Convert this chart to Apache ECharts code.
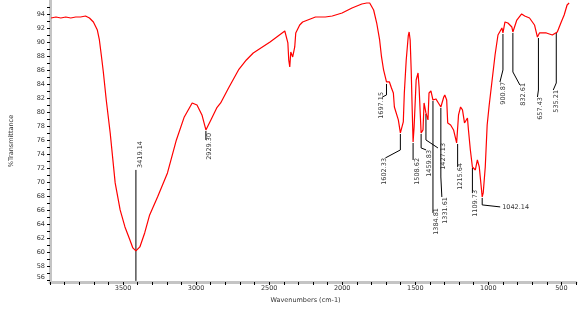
<!DOCTYPE html>
<html>
<head>
<meta charset="utf-8">
<script src="https://cdn.jsdelivr.net/npm/echarts@6/dist/echarts.min.js"></script>
<style>
  html, body { margin: 0; padding: 0; background: #fff; }
  #chart { width: 579px; height: 310px; }
</style>
</head>
<body>
<div id="chart"></div>
<script>
// spectrum
var wavenumbers = [3993, 3959, 3926, 3892, 3858, 3824, 3791, 3757, 3730, 3703, 3676, 3662, 3649, 3635, 3615, 3588, 3554, 3520, 3487, 3453,
    3433, 3412, 3385, 3352, 3318, 3264, 3196, 3135, 3081, 3027, 2994, 2960, 2933, 2899, 2859, 2832, 2778, 2710, 2656, 2609,
    2494, 2393, 2386, 2372, 2366, 2359, 2352, 2339, 2325, 2318, 2291, 2271, 2183, 2116, 2068, 2001, 1933, 1866, 1832, 1812,
    1785, 1764, 1744, 1731, 1717, 1697, 1677, 1663, 1650, 1643, 1616, 1602, 1582, 1575, 1562, 1548, 1542, 1535, 1528, 1521,
    1515, 1508, 1494, 1481, 1474, 1460, 1447, 1440, 1427, 1413, 1406, 1393, 1379, 1359, 1346, 1325, 1305, 1298, 1285, 1278,
    1258, 1238, 1217, 1204, 1190, 1177, 1163, 1143, 1136, 1123, 1109, 1089, 1075, 1062, 1042, 1035, 1021, 1008, 994, 974,
    954, 934, 907, 900, 886, 866, 839, 832, 805, 772, 751, 718, 684, 664, 650, 603, 562, 528, 501, 481,
    461, 447];
var transmittance = [93.43, 93.57, 93.43, 93.57, 93.43, 93.57, 93.57, 93.71, 93.43, 92.86, 91.71, 90.29, 88.14, 85.71, 81.71, 77.0, 69.86, 66.0, 63.57, 61.71,
    60.57, 60.14, 60.71, 62.71, 65.29, 67.86, 71.29, 76.0, 79.29, 81.29, 81.0, 79.57, 77.43, 78.86, 80.57, 81.29, 83.43, 86.0, 87.43, 88.43,
    90.0, 91.57, 91.43, 89.86, 87.43, 86.43, 88.57, 87.86, 89.29, 91.29, 92.43, 92.86, 93.57, 93.57, 93.71, 94.14, 94.86, 95.43, 95.57, 95.57,
    94.57, 92.71, 90.29, 87.86, 86.0, 84.29, 84.29, 83.43, 82.71, 80.71, 78.86, 77.0, 78.57, 82.71, 87.43, 90.86, 91.43, 90.29, 86.0, 80.29,
    75.71, 77.86, 84.57, 85.57, 83.57, 77.0, 77.43, 81.29, 79.86, 78.86, 82.71, 83.0, 81.71, 81.86, 81.43, 80.71, 82.14, 82.43, 81.71, 78.43,
    78.14, 77.43, 75.57, 79.57, 80.71, 80.29, 78.43, 79.14, 77.43, 74.57, 72.14, 71.71, 73.14, 72.14, 67.86, 68.43, 72.14, 78.14, 81.0, 84.57,
    88.14, 91.0, 92.0, 91.29, 92.86, 92.71, 92.14, 91.43, 93.14, 94.0, 93.71, 93.43, 92.43, 90.71, 91.29, 91.29, 91.0, 91.43, 92.86, 93.86,
    95.29, 95.57];

// labelled peaks
var peakWn = [3412, 2933, 1697, 1602, 1515, 1460, 1379, 1325, 1427, 1217, 1109, 1042, 900, 832, 664, 535];
var peakT = [60.14, 77.43, 84.29, 77.0, 75.71, 77.0, 81.71, 80.71, 79.86, 75.57, 72.14, 67.86, 91.29, 91.43, 90.71, 91.43];
var peakText = ['3419.14', '2929.30', '1697.15', '1602.33', '1508.62', '1459.83', '1384.81', '1331.61', '1427.13',
    '1215.64', '1109.73', '1042.14', '900.87', '832.61', '657.43', '535.21'];

var xLabels = [3500, 3000, 2500, 2000, 1500, 1000, 500];
var yLabels = [56.3, 58, 60, 62, 64, 66, 68, 70, 72, 74, 76, 78, 80, 82, 84, 86, 88, 90, 92, 94];

// leader line offsets (px) from each peak, and where its text sits
var markerLayout = [
    { pts: [[0, -81], [0, 30]], lab: [4, -83], align: 'left' },
    { pts: [[0, 1], [0, 10]], lab: [3, 3], align: 'right' },
    { pts: [[0, 2], [0, 13], [-4, 15]], lab: [-5, 10], align: 'right' },
    { pts: [[0, 1], [0, 17], [-15, 25]], lab: [-16, 25], align: 'right' },
    { pts: [[0, 1], [0, 18]], lab: [4, 16], align: 'right' },
    { pts: [[0, 1], [0, 15], [5, 17]], lab: [8, 17], align: 'right' },
    { pts: [[0, 1], [0, 113]], lab: [3, 108], align: 'right' },
    { pts: [[0, 1], [0, 70], [1, 90]], lab: [4, 90], align: 'right' },
    { pts: [[0, 1], [0, 27], [12, 35]], lab: [17, 30], align: 'right' },
    { pts: [[1, 1], [1, 24]], lab: [4, 20], align: 'right' },
    { pts: [[0, 1], [0, 26]], lab: [3, 23], align: 'right' },
    { pts: [[0, 1], [0, 8], [18, 10]], lab: [20, 10], align: 'flat' },
    { pts: [[0, 1], [0, 37], [-3, 49]], lab: [0, 49], align: 'right' },
    { pts: [[0, 1], [0, 40], [7, 53]], lab: [10, 51], align: 'right' },
    { pts: [[1, 1], [1, 53], [0, 60]], lab: [3, 60], align: 'right' },
    { pts: [[0, 1], [0, 51], [-3, 58]], lab: [0, 58], align: 'right' }
];

var font = 'DejaVu Sans';
var textColor = '#333';
var fs = 6.5;

var yTicks = [];
for (var v = 56; v <= 95; v++) yTicks.push(v);

var myChart = echarts.init(document.getElementById('chart'));

var option = {
    backgroundColor: '#fff',
    animation: false,
    grid: { left: 44, right: 2, top: 0, bottom: 28 },
    xAxis: {
        type: 'value',
        min: 400,
        max: 4000,
        interval: 100,
        inverse: true,
        name: 'Wavenumbers (cm-1)',
        nameLocation: 'middle',
        nameGap: 11,
        nameTextStyle: { fontFamily: font, fontSize: fs, color: textColor, padding: [0, 15, 0, 0] },
        axisLine: { lineStyle: { color: '#c4c4c4', width: 3 } },
        axisTick: { length: 3, lineStyle: { color: '#000', width: 1 } },
        axisLabel: {
            fontFamily: font, fontSize: fs, color: textColor, margin: 3,
            formatter: function (val) {
                return xLabels.indexOf(val) > -1 ? String(val) : '';
            }
        },
        splitLine: { show: false }
    },
    yAxis: {
        type: 'value',
        min: 55.7,
        max: 96,
        name: '%Transmittance',
        nameLocation: 'middle',
        nameGap: 35,
        nameTextStyle: { fontFamily: font, fontSize: fs, color: textColor },
        axisLine: { show: true, lineStyle: { color: '#c4c4c4', width: 3 } },
        axisTick: { show: true, length: 3, customValues: yTicks, lineStyle: { color: '#000', width: 1 } },
        axisLabel: {
            fontFamily: font, fontSize: fs, color: textColor, margin: 5,
            customValues: yLabels,
            formatter: function (val) { return String(Math.round(val)); }
        },
        splitLine: { show: false }
    },
    series: [
        {
            type: 'line',
            data: wavenumbers.map(function (w, i) { return [w, transmittance[i]]; }),
            showSymbol: false,
            lineStyle: { color: '#ff0000', width: 1.2 },
            silent: true
        },
        {
            type: 'custom',
            silent: true,
            clip: false,
            data: peakWn.map(function (w, i) { return [w, peakT[i]]; }),
            renderItem: function (params, api) {
                var i = params.dataIndex;
                var p = api.coord([api.value(0), api.value(1)]);
                var lay = markerLayout[i];
                var pts = lay.pts.map(function (d) { return [p[0] + d[0], p[1] + d[1]]; });
                var txt;
                if (lay.align === 'flat') {
                    txt = {
                        type: 'text',
                        x: p[0] + lay.lab[0], y: p[1] + lay.lab[1],
                        style: { text: peakText[i], align: 'left', verticalAlign: 'middle',
                            fontFamily: font, fontSize: fs, fill: textColor }
                    };
                } else {
                    txt = {
                        type: 'text',
                        x: p[0] + lay.lab[0], y: p[1] + lay.lab[1],
                        rotation: Math.PI / 2,
                        style: { text: peakText[i], align: lay.align, verticalAlign: 'middle',
                            fontFamily: font, fontSize: fs, fill: textColor }
                    };
                }
                return {
                    type: 'group',
                    children: [
                        { type: 'polyline', shape: { points: pts }, style: { stroke: '#000', lineWidth: 1, fill: null } },
                        txt
                    ]
                };
            }
        }
    ]
};

myChart.setOption(option);
</script>
</body>
</html>
